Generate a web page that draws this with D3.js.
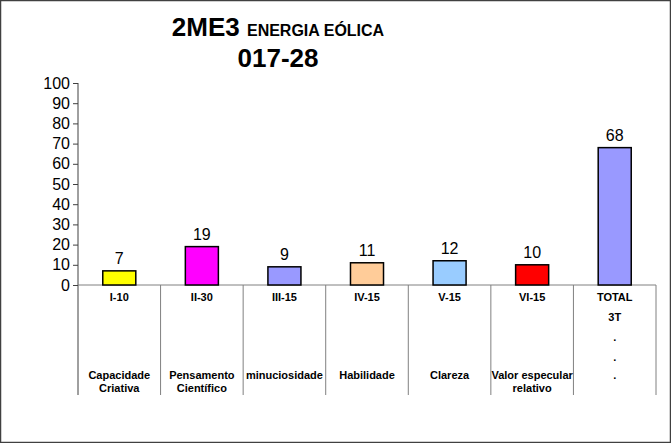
<!DOCTYPE html>
<html><head><meta charset="utf-8">
<script src="https://cdn.jsdelivr.net/npm/d3@7"></script>
<style>html,body{margin:0;padding:0;background:#fff}svg{display:block}</style>
</head><body>
<svg id="c" width="671" height="443"></svg>
<script>
const categories = ["I-10","II-30","III-15","IV-15","V-15","VI-15","TOTAL"];
const values = [7,19,9,11,12,10,68];
const colors = ["#FFFF00","#FF00FF","#9999FF","#FFCC99","#99CCFF","#FF0000","#9999FF"];
const descriptions = [["Capacidade","Criativa"],["Pensamento","Científico"],["minuciosidade"],["Habilidade"],["Clareza"],["Valor especular","relativo"],["."]];
const totalExtra = ["3T",".","."];
const yTicks = [0,10,20,30,40,50,60,70,80,90,100];

const svg = d3.select("#c");
svg.append("rect").attr("x",0.5).attr("y",0.5).attr("width",670).attr("height",442)
  .attr("fill","#fff").attr("stroke","#404040").attr("stroke-width",1.5);

const x0 = 78, x1 = 656, yTop = 83, yZero = 285, yBottom = 395;
const x = d3.scaleBand().domain(categories).range([x0,x1]).paddingInner(0).paddingOuter(0);
const y = d3.scaleLinear().domain([0,100]).range([yZero,yTop]);

// title
const title = svg.append("text").attr("x",278).attr("y",36).attr("text-anchor","middle")
  .attr("font-family","'Liberation Sans Narrow','Arial Narrow',Arial,sans-serif").attr("font-weight","bold");
title.append("tspan").attr("font-size",26).text("2ME3 ");
title.append("tspan").attr("font-size",16).text("ENERGIA EÓLICA");
svg.append("text").attr("x",278).attr("y",67).attr("text-anchor","middle")
  .attr("font-family","'Liberation Sans Narrow','Arial Narrow',Arial,sans-serif").attr("font-weight","bold")
  .attr("font-size",26).text("017-28");

// y axis
const yAxis = d3.axisLeft(y).tickValues(yTicks).tickSize(5).tickPadding(3);
const ga = svg.append("g").attr("transform",`translate(${x0},0)`).call(yAxis);
ga.select(".domain").remove();
ga.selectAll("line").attr("stroke","#404040");
ga.selectAll("text").attr("font-family","Arial,'Liberation Sans',sans-serif").attr("font-size",16).attr("fill","#000");

// axis lines
svg.append("line").attr("x1",x0).attr("x2",x0).attr("y1",yTop).attr("y2",yBottom).attr("stroke","#404040");
svg.append("line").attr("x1",x0).attr("x2",x1).attr("y1",yZero).attr("y2",yZero).attr("stroke","#808080");
// table dividers
categories.forEach((c,i)=>{
  const xr = x(c)+x.bandwidth();
  svg.append("line").attr("x1",xr).attr("x2",xr).attr("y1",yZero).attr("y2",yBottom).attr("stroke","#808080");
});

// bars
const bw = x.bandwidth()*0.4;
svg.selectAll("rect.bar").data(values).join("rect").attr("class","bar")
  .attr("x",(d,i)=>x(categories[i])+x.bandwidth()/2-bw/2)
  .attr("y",d=>y(d)).attr("width",bw).attr("height",d=>yZero-y(d))
  .attr("fill",(d,i)=>colors[i]).attr("stroke","#000").attr("stroke-width",1.5);

svg.selectAll("text.val").data(values).join("text").attr("class","val")
  .attr("x",(d,i)=>x(categories[i])+x.bandwidth()/2).attr("y",d=>y(d)-7)
  .attr("text-anchor","middle").attr("font-family","Arial,'Liberation Sans',sans-serif").attr("font-size",16)
  .text(d=>d);

// category labels
const lf = "Arial,'Liberation Sans',sans-serif";
categories.forEach((c,i)=>{
  const cx = x(c)+x.bandwidth()/2;
  svg.append("text").attr("x",cx).attr("y",301).attr("text-anchor","middle").attr("font-family",lf)
    .attr("font-weight","bold").attr("font-size",11).text(c);
  const d = descriptions[i];
  d.forEach((t,j)=>{
    svg.append("text").attr("x",cx).attr("y",379+j*13).attr("text-anchor","middle").attr("font-family",lf)
      .attr("font-weight","bold").attr("font-size",11).text(t);
  });
});
const tx = x("TOTAL")+x.bandwidth()/2;
totalExtra.forEach((t,j)=>{
  svg.append("text").attr("x",tx).attr("y",321+j*20).attr("text-anchor","middle").attr("font-family",lf)
    .attr("font-weight","bold").attr("font-size",11).text(t);
});
</script>
</body></html>
